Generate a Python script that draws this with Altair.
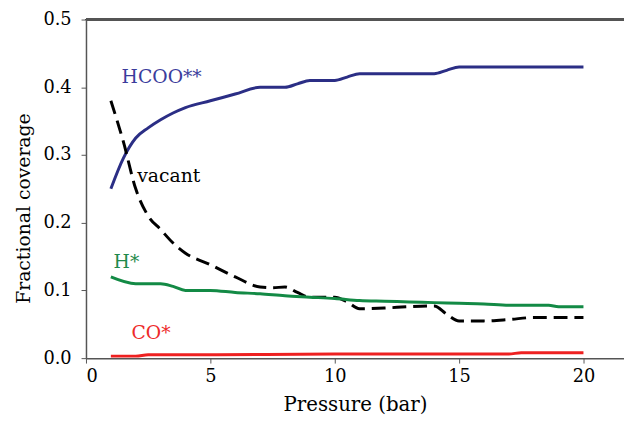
import altair as alt
import pandas as pd

# HCOO**
hcoo_x = [1, 1.5, 2, 2.5, 3, 3.5, 4, 5, 6, 7, 8, 8.5, 9, 10, 10.5, 11, 12, 13, 14, 14.5, 15, 16, 17, 18, 19, 20]
hcoo_y = [0.25, 0.295, 0.325, 0.34, 0.352, 0.362, 0.37, 0.38, 0.39, 0.40, 0.40, 0.405, 0.41, 0.41, 0.415, 0.42, 0.42, 0.42, 0.42, 0.425, 0.43, 0.43, 0.43, 0.43, 0.43, 0.43]

# vacant
vac_x = [1, 1.5, 2, 2.5, 3, 3.5, 4, 5, 6, 7, 7.5, 8, 8.5, 9, 10, 10.5, 11, 12, 13, 14, 14.5, 15, 16, 17, 18, 19, 20]
vac_y = [0.38, 0.32, 0.25, 0.21, 0.19, 0.17, 0.155, 0.138, 0.12, 0.105, 0.104, 0.105, 0.097, 0.09, 0.09, 0.083, 0.073, 0.074, 0.076, 0.077, 0.065, 0.055, 0.055, 0.057, 0.06, 0.06, 0.06]

# H*
h_x = [1, 2, 3, 3.5, 4, 5, 6, 7, 8, 9, 10, 11, 12, 13, 14, 15, 16, 17, 18, 18.6, 19, 20]
h_y = [0.12, 0.11, 0.11, 0.106, 0.10, 0.10, 0.097, 0.095, 0.092, 0.09, 0.088, 0.085, 0.084, 0.083, 0.082, 0.081, 0.08, 0.078, 0.078, 0.078, 0.076, 0.076]

# CO*
co_x = [1, 2, 2.5, 5, 10, 17, 17.5, 20]
co_y = [0.003, 0.003, 0.005, 0.005, 0.006, 0.006, 0.008, 0.008]

series_names = ["HCOO**", "vacant", "H*", "CO*"]
series_colors = ["#2B2E85", "#000000", "#138A45", "#EE2020"]

# label annotations
label_text = ["HCOO**", "vacant", "H*", "CO*"]
label_x = [1.43, 2.06, 1.11, 1.83]
label_y = [0.407, 0.26, 0.133, 0.029]
label_colors = ["#3B3C9C", "#000000", "#1F8A4C", "#EE2A2A"]

rows = []
for name, xs, ys in zip(series_names, [hcoo_x, vac_x, h_x, co_x], [hcoo_y, vac_y, h_y, co_y]):
    for x, y in zip(xs, ys):
        rows.append({"series": name, "p": x, "cov": y})
df = pd.DataFrame(rows)

lab = pd.DataFrame({"text": label_text, "p": label_x, "cov": label_y, "col": label_colors})

xscale = alt.Scale(domain=[0, 21.63], nice=False, zero=False)
yscale = alt.Scale(domain=[0, 0.5], nice=False)

FONT = "DejaVu Serif"

xaxis = alt.Axis(values=[0, 5, 10, 15, 20], title="Pressure (bar)", grid=False,
                 tickSize=5, labelPadding=5, titlePadding=9, domainColor="#555555",
                 tickColor="#555555", domainWidth=1.5, labelFontSize=18, titleFontSize=20,
                 labelFont=FONT, titleFont=FONT)
yaxis = alt.Axis(values=[0, 0.1, 0.2, 0.3, 0.4, 0.5], format=".1f", title="Fractional coverage",
                 grid=False, tickSize=5, labelPadding=10, titlePadding=10, titleY=191,
                 domainColor="#555555",
                 tickColor="#555555", domainWidth=1.5, labelFontSize=18, titleFontSize=19,
                 labelFont=FONT, titleFont=FONT)

def line(name, color, dash=None):
    kw = dict(color=color, strokeWidth=3, interpolate="monotone")
    if dash:
        kw["strokeDash"] = dash
    return alt.Chart(df).transform_filter(alt.datum.series == name).mark_line(**kw).encode(
        x=alt.X("p:Q", scale=xscale, axis=xaxis),
        y=alt.Y("cov:Q", scale=yscale, axis=yaxis),
    )

top = alt.Chart(df).mark_rule(color="#555555", strokeWidth=1.5).encode(y=alt.datum(0.5))

lines = [line("HCOO**", series_colors[0]), line("vacant", series_colors[1], [14, 7]),
         line("H*", series_colors[2]), line("CO*", series_colors[3])]

texts = alt.Chart(lab).mark_text(align="left", baseline="alphabetic", fontSize=19, font=FONT).encode(
    x=alt.X("p:Q", scale=xscale), y=alt.Y("cov:Q", scale=yscale),
    text="text:N", color=alt.Color("col:N", scale=None),
)

chart = alt.layer(top, *lines, texts).properties(
    width=545, height=343,
    autosize=alt.AutoSizeParams(type="none"),
    padding={"left": 79, "top": 9, "right": 0, "bottom": 62},
).configure_view(stroke=None).configure_axis(
    labelColor="#000000", titleColor="#000000", titleFontWeight="normal"
)

chart.save("out.html", embed_options={"renderer": "svg", "actions": False})
